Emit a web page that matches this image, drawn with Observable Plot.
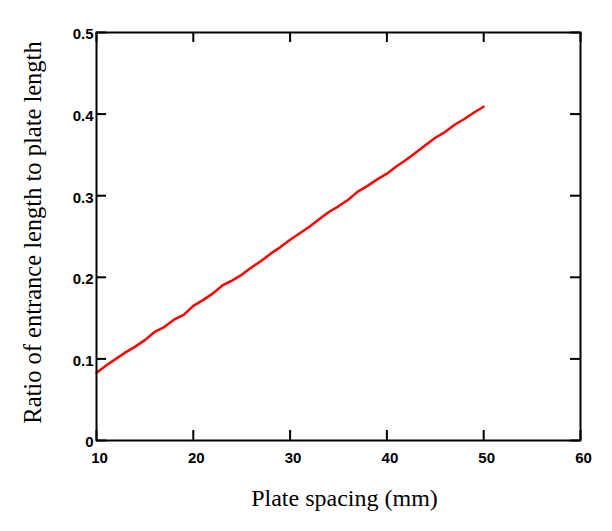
<!DOCTYPE html>
<html>
<head>
<meta charset="utf-8">
<script src="https://cdn.jsdelivr.net/npm/d3@7"></script>
<script src="https://cdn.jsdelivr.net/npm/@observablehq/plot@0.6"></script>
<style>
  html, body { margin: 0; padding: 0; background: #fff; }
</style>
</head>
<body>
<div id="chart"></div>
<script>
const spacing = [10,11,12,13,14,15,16,17,18,19,20,21,22,23,24,25,26,27,28,29,30,31,32,33,34,35,36,37,38,39,40,41,42,43,44,45,46,47,48,49,50];
const ratio = [0.083,0.092,0.100,0.108,0.115,0.123,0.133,0.139,0.148,0.154,0.165,0.172,0.180,0.190,0.196,0.203,0.212,0.220,0.229,0.237,0.246,0.254,0.262,0.271,0.280,0.287,0.295,0.305,0.312,0.320,0.327,0.336,0.344,0.353,0.362,0.371,0.378,0.387,0.394,0.402,0.409];
const xTicks = [10,20,30,40,50,60];
const yTicks = [0,0.1,0.2,0.3,0.4,0.5];
const xTitle = "Plate spacing (mm)";
const yTitle = "Ratio of entrance length to plate length";

const data = spacing.map((x, i) => ({x, y: ratio[i]}));
const H = 531, mT = 32, mB = 91;
const inner = H - mT - mB;
const tickLen = 10;

const chart = Plot.plot({
  width: 612,
  height: H,
  marginTop: mT,
  marginBottom: mB,
  marginLeft: 96,
  marginRight: 32,
  style: {fontFamily: "Liberation Sans, Arial, sans-serif", background: "#fff", color: "#000"},
  x: {domain: [10, 60]},
  y: {domain: [0, 0.5]},
  marks: [
    Plot.line(data, {x: "x", y: "y", stroke: "#ff0000", strokeWidth: 2.5}),
    Plot.tickX(xTicks, {x: d => d, stroke: "#000", strokeWidth: 2, insetTop: inner - tickLen}),
    Plot.tickX(xTicks, {x: d => d, stroke: "#000", strokeWidth: 2, insetBottom: inner - tickLen}),
    Plot.tickY(yTicks, {y: d => d, stroke: "#000", strokeWidth: 2, insetRight: 484 - tickLen}),
    Plot.tickY(yTicks, {y: d => d, stroke: "#000", strokeWidth: 2, insetLeft: 484 - tickLen}),
    Plot.frame({stroke: "#000", strokeWidth: 2}),
    Plot.axisX({ticks: xTicks, tickSize: 0, tickPadding: 12, fontSize: 15, fontWeight: "bold", dx: 3, label: null}),
    Plot.axisY({ticks: yTicks, tickSize: 0, tickPadding: 3, fontSize: 15, fontWeight: "bold", dy: 2, label: null, tickFormat: d => String(d)}),
    Plot.text([xTitle], {text: d => d, frameAnchor: "bottom", dy: 65, dx: 6, fontSize: 24, fontFamily: "Liberation Serif, Times New Roman, serif"}),
    Plot.text([yTitle], {text: d => d, frameAnchor: "left", textAnchor: "middle", dx: -63, dy: -4, rotate: -90, fontSize: 24.5, fontFamily: "Liberation Serif, Times New Roman, serif"})
  ]
});
document.getElementById("chart").appendChild(chart);
</script>
</body>
</html>
